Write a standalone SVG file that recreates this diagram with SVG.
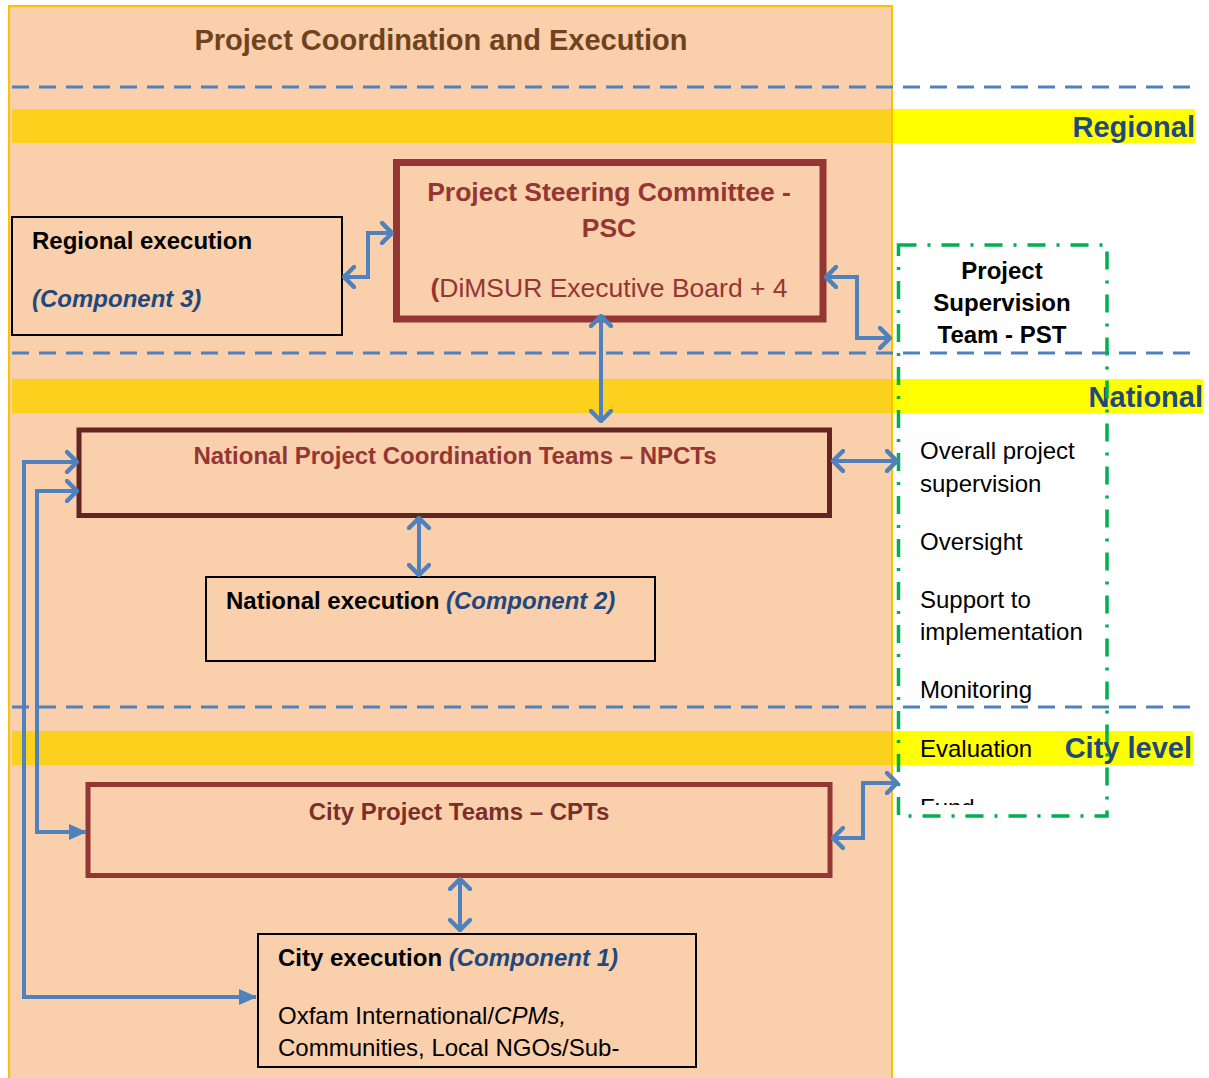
<svg xmlns="http://www.w3.org/2000/svg" width="1209" height="1078" viewBox="0 0 1209 1078">
<style>
text{font-family:"Liberation Sans",Arial,sans-serif;}
.b{font-weight:bold;}
.i{font-style:italic;}
.blk{fill:#000;}
.red{fill:#943634;}
.blue{fill:#1F497D;}
.lvl{font-size:29px;font-weight:bold;fill:#1F497D;}
.t24{font-size:24px;}
.box{fill:#FACFAB;stroke:#000;stroke-width:2;}
.dash{stroke:#4F81BD;stroke-width:3;stroke-dasharray:17 10;fill:none;}
.conn path{fill:none;stroke:#4F81BD;stroke-width:4;stroke-linejoin:miter;}
</style>
<defs>
<marker id="v" viewBox="0 0 14 24" refX="12" refY="12" markerWidth="14" markerHeight="24" orient="auto-start-reverse" markerUnits="userSpaceOnUse">
<path d="M2,2 L12,12 L2,22" fill="none" stroke="#4F81BD" stroke-width="4.5" stroke-linecap="round" stroke-linejoin="round"/>
</marker>
<marker id="tri" viewBox="0 0 18 18" refX="17" refY="9" markerWidth="18" markerHeight="18" orient="auto-start-reverse" markerUnits="userSpaceOnUse">
<path d="M0,1 L18,9 L0,17 z" fill="#4F81BD"/>
</marker>
<clipPath id="fundclip"><rect x="900" y="780" width="205" height="25"/></clipPath>
</defs>

<!-- panel background -->
<rect x="9" y="6" width="883" height="1080" fill="#FACFAB"/>

<!-- level bands -->
<g id="bands">
<rect x="12" y="109" width="880" height="34" fill="#FCD11D"/>
<rect x="892" y="109" width="303" height="34" fill="#FFFF00"/>
<rect x="12" y="379" width="880" height="34" fill="#FCD11D"/>
<rect x="892" y="379" width="311" height="34" fill="#FFFF00"/>
<rect x="12" y="731" width="880" height="34" fill="#FCD11D"/>
<rect x="892" y="731" width="301" height="34" fill="#FFFF00"/>
</g>

<rect x="9" y="6" width="883" height="1080" fill="none" stroke="#FFC000" stroke-width="2"/>

<g id="dividers">
<line class="dash" x1="12" y1="87" x2="1200" y2="87"/>
<line class="dash" x1="12" y1="353" x2="1200" y2="353"/>
<line class="dash" x1="12" y1="707" x2="1200" y2="707"/>
</g>

<text id="title" x="441" y="50" text-anchor="middle" class="b" style="font-size:29px;fill:#704320">Project Coordination and Execution</text>

<g id="level-labels">
<text class="lvl" x="1195" y="137" text-anchor="end">Regional</text>
<text class="lvl" x="1203" y="407" text-anchor="end">National</text>
<text class="lvl" x="1192" y="758" text-anchor="end">City level</text>
</g>

<g id="psc">
<rect x="396.5" y="162.5" width="426.5" height="156.5" fill="#FACFAB" stroke="#943634" stroke-width="7"/>
<text x="609" y="201" text-anchor="middle" class="b red" style="font-size:26.5px">Project Steering Committee -</text>
<text x="609" y="237" text-anchor="middle" class="b red" style="font-size:26.5px">PSC</text>
<text x="609" y="297" text-anchor="middle" class="red" style="font-size:26.5px"><tspan class="b">(</tspan>DiMSUR Executive Board + 4</text>
</g>

<g id="regional-execution">
<rect class="box" x="12" y="217" width="330" height="118"/>
<text x="32" y="249" class="b blk t24">Regional execution</text>
<text x="32" y="307" class="b i blue t24">(Component 3)</text>
</g>

<g id="npct">
<rect x="79" y="430" width="750.5" height="85.5" fill="#FACFAB" stroke="#632523" stroke-width="5"/>
<text x="455" y="464" text-anchor="middle" class="b red t24">National Project Coordination Teams – NPCTs</text>
</g>

<g id="national-execution">
<rect class="box" x="206" y="577" width="449" height="84"/>
<text x="226" y="609" class="b blk t24">National execution <tspan class="i blue">(Component 2)</tspan></text>
</g>

<g id="cpt">
<rect x="88" y="784.5" width="742" height="91" fill="#FACFAB" stroke="#943634" stroke-width="5"/>
<text x="459" y="820" text-anchor="middle" class="b t24" style="fill:#7A2F2B">City Project Teams – CPTs</text>
</g>

<g id="city-execution">
<rect class="box" x="258" y="934" width="438" height="133"/>
<text x="278" y="966" class="b blk t24">City execution <tspan class="i blue">(Component 1)</tspan></text>
<text x="278" y="1024" class="blk t24">Oxfam International/<tspan class="i">CPMs,</tspan></text>
<text x="278" y="1056" class="blk t24">Communities, Local NGOs/Sub-</text>
</g>

<g id="pst">
<text x="1002" y="279" text-anchor="middle" class="b blk t24">Project</text>
<text x="1002" y="311" text-anchor="middle" class="b blk t24">Supervision</text>
<text x="1002" y="343" text-anchor="middle" class="b blk t24">Team - PST</text>
<text x="920" y="459" class="blk t24">Overall project</text>
<text x="920" y="492" class="blk t24">supervision</text>
<text x="920" y="550" class="blk t24">Oversight</text>
<text x="920" y="608" class="blk t24">Support to</text>
<text x="920" y="640" class="blk t24">implementation</text>
<text x="920" y="698" class="blk t24">Monitoring</text>
<text x="920" y="757" class="blk t24">Evaluation</text>
<text x="920" y="816" class="blk t24" clip-path="url(#fundclip)">Fund</text>
<rect x="898.5" y="245" width="208.5" height="571" fill="none" stroke="#00B050" stroke-width="3.5" stroke-dasharray="18 11 3 11"/>
</g>

<g id="connectors" class="conn">
<path d="M344,277 L368,277 L368,233 L392,233" marker-start="url(#v)" marker-end="url(#v)"/>
<path d="M826,277 L857,277 L857,338 L890,338" marker-start="url(#v)" marker-end="url(#v)"/>
<path d="M601,316 L601,421" marker-start="url(#v)" marker-end="url(#v)"/>
<path d="M833,461 L897,461" marker-start="url(#v)" marker-end="url(#v)"/>
<path d="M419,518 L419,575" marker-start="url(#v)" marker-end="url(#v)"/>
<path d="M833,838 L863,838 L863,783 L897,783" marker-start="url(#v)" marker-end="url(#v)"/>
<path d="M460,879 L460,930" marker-start="url(#v)" marker-end="url(#v)"/>
<path d="M77,462 L24,462 L24,997 L256,997" marker-start="url(#v)" marker-end="url(#tri)"/>
<path d="M77,491 L37,491 L37,832 L86,832" marker-start="url(#v)" marker-end="url(#tri)"/>
</g>
</svg>
